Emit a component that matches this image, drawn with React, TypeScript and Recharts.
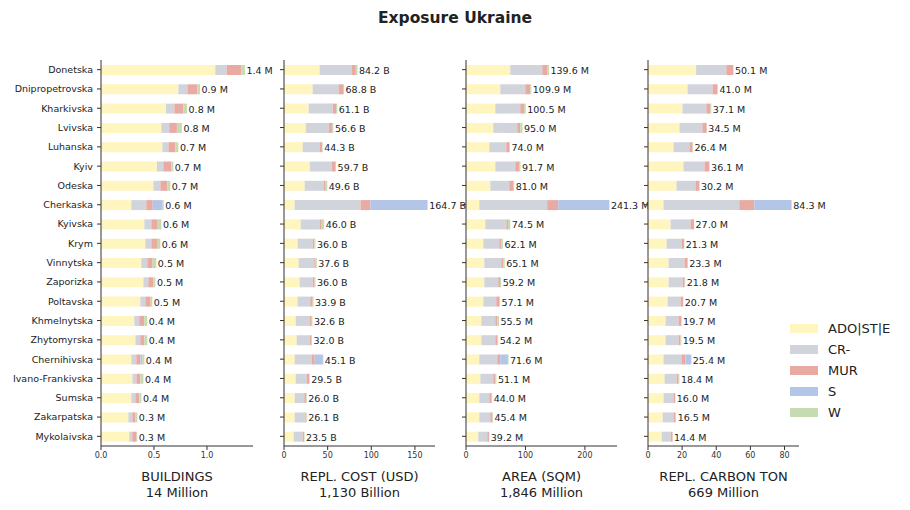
import { BarChart, Bar, XAxis, YAxis, LabelList } from "recharts";

const regions = [
  "Donetska", "Dnipropetrovska", "Kharkivska", "Lvivska", "Luhanska",
  "Kyiv", "Odeska", "Cherkaska", "Kyivska", "Krym",
  "Vinnytska", "Zaporizka", "Poltavska", "Khmelnytska", "Zhytomyrska",
  "Chernihivska", "Ivano-Frankivska", "Sumska", "Zakarpatska", "Mykolaivska",
];

const categories = ["ADO|ST|E", "CR-", "MUR", "S", "W"];
const colors = ["#fff5be", "#d2d4dc", "#e8aaa2", "#b3c6e8", "#c7dbb3"];

// buildings (million)
const bldAdo = [1.078, 0.73, 0.613, 0.569, 0.579, 0.528, 0.494, 0.286, 0.409, 0.418, 0.38, 0.4, 0.371, 0.314, 0.324, 0.286, 0.296, 0.286, 0.258, 0.267];
const bldCr = [0.107, 0.085, 0.079, 0.075, 0.057, 0.06, 0.066, 0.142, 0.066, 0.057, 0.057, 0.047, 0.047, 0.047, 0.047, 0.047, 0.038, 0.038, 0.038, 0.028];
const bldMur = [0.138, 0.094, 0.085, 0.072, 0.066, 0.075, 0.066, 0.06, 0.06, 0.06, 0.05, 0.047, 0.05, 0.047, 0.038, 0.038, 0.038, 0.038, 0.028, 0.041];
const bldS = [0, 0, 0, 0, 0, 0, 0, 0.094, 0, 0, 0, 0, 0, 0, 0, 0.019, 0, 0, 0, 0];
const bldW = [0.035, 0.025, 0.035, 0.047, 0.028, 0.019, 0.028, 0.01, 0.035, 0.025, 0.035, 0.019, 0.016, 0.028, 0.028, 0.019, 0.028, 0.019, 0.019, 0.006];

// replacement cost (billion USD)
const costAdo = [40.8, 32.8, 28.3, 24.9, 21.4, 29.4, 23.7, 12.2, 19.1, 15.6, 16.8, 17.9, 15.6, 13.4, 14.5, 12.2, 13.4, 12.2, 12.2, 11.1];
const costCr = [36.5, 29.8, 27.5, 26.4, 19.8, 25.2, 22.1, 75.5, 21.8, 17.2, 17.9, 14.9, 14.5, 16.4, 15.3, 19.5, 12.6, 11.1, 11.5, 10.3];
const costMur = [5.0, 5.0, 3.8, 3.8, 2.3, 4.6, 1.9, 11.4, 2.3, 1.9, 0.8, 2.3, 2.7, 1.1, 1.1, 3.4, 2.7, 1.9, 1.1, 1.5];
const costS = [0, 0, 0, 0, 0, 0, 0, 65.3, 0, 0, 0, 0, 0, 0, 0, 9.5, 0, 0, 0, 0];
const costW = [1.9, 1.2, 1.5, 1.5, 0.8, 0.5, 1.9, 0.3, 2.8, 1.3, 2.1, 0.9, 1.1, 1.7, 1.1, 0.5, 0.8, 0.8, 1.3, 0.6];

// area (million sqm)
const areaAdo = [74.5, 57.7, 49.3, 45.9, 39.2, 49.3, 40.9, 22.4, 32.5, 29.1, 30.8, 30.8, 29.1, 25.8, 25.8, 22.4, 24.1, 22.4, 22.4, 20.7];
const areaCr = [53.8, 42.0, 42.0, 40.3, 28.6, 33.6, 31.9, 114.2, 35.3, 26.9, 28.6, 23.5, 21.8, 23.5, 23.5, 30.2, 21.8, 16.8, 18.5, 15.1];
const areaMur = [9.0, 8.4, 6.2, 5.0, 5.0, 7.3, 7.3, 18.5, 2.8, 3.4, 3.4, 2.8, 5.6, 3.4, 3.4, 5.0, 3.4, 3.9, 3.4, 2.8];
const areaS = [0, 0, 0, 0, 0, 0, 0, 85.7, 0, 0, 0, 0, 0, 0, 0, 12.9, 0, 0, 0, 0];
const areaW = [2.3, 1.8, 3.0, 3.8, 1.2, 1.5, 0.9, 0.5, 3.9, 2.7, 2.3, 2.1, 0.6, 2.8, 1.5, 1.1, 1.8, 0.9, 1.1, 0.6];

// replacement carbon (million ton)
const carbAdo = [28.2, 23.2, 20.2, 18.5, 15.0, 20.8, 16.7, 9.1, 13.2, 10.9, 12.1, 12.1, 11.5, 10.3, 10.3, 9.1, 9.7, 9.1, 8.6, 8.0];
const carbCr = [17.7, 14.6, 14.0, 13.4, 9.3, 12.3, 11.1, 44.4, 11.7, 8.8, 9.3, 8.2, 7.6, 7.6, 7.6, 10.5, 7.0, 5.8, 6.4, 5.3];
const carbMur = [4.1, 2.9, 2.5, 2.5, 1.8, 2.9, 2.3, 8.8, 2.1, 1.4, 1.8, 1.2, 1.4, 1.7, 1.2, 2.3, 1.2, 1.1, 1.0, 1.1];
const carbS = [0, 0, 0, 0, 0, 0, 0, 21.8, 0, 0, 0, 0, 0, 0, 0, 3.5, 0, 0, 0, 0];
const carbW = [0.1, 0.3, 0.4, 0.1, 0.3, 0.1, 0.1, 0.2, 0, 0.2, 0.1, 0.3, 0.2, 0.1, 0.4, 0, 0.5, 0, 0.5, 0];

const makeRows = (cols: number[][]) =>
  regions.map((region, i) => {
    const row: any = { region };
    cols.forEach((c, k) => (row["c" + k] = c[i]));
    row.total = cols.reduce((s, c) => s + c[i], 0);
    return row;
  });

const panels = [
  { rows: makeRows([bldAdo, bldCr, bldMur, bldS, bldW]), unit: "M", max: 1.434, ticks: [0, 0.5, 1.0], fmt: (v: number) => v.toFixed(1), title: "BUILDINGS", sub: "14 Million" },
  { rows: makeRows([costAdo, costCr, costMur, costS, costW]), unit: "B", max: 173, ticks: [0, 50, 100, 150], fmt: (v: number) => String(v), title: "REPL. COST (USD)", sub: "1,130 Billion" },
  { rows: makeRows([areaAdo, areaCr, areaMur, areaS, areaW]), unit: "M", max: 254, ticks: [0, 100, 200], fmt: (v: number) => String(v), title: "AREA (SQM)", sub: "1,846 Million" },
  { rows: makeRows([carbAdo, carbCr, carbMur, carbS, carbW]), unit: "M", max: 88.5, ticks: [0, 20, 40, 60, 80], fmt: (v: number) => String(v), title: "REPL. CARBON TON", sub: "669 Million" },
];

const font = "'DejaVu Sans', sans-serif";
const axisColor = "#333";

const Panel = ({ p, idx }: { p: any; idx: number }) => {
  const first = idx === 0;
  const left = first ? 0 : 254 + (idx - 1) * 182;
  const yWidth = first ? 101 : 30;
  const plotW = first ? 152 : 151;
  const width = first ? 300 : 230;

  // total label drawn from the first segment: its width scales to the row total
  const totalLabel = (lp: any) => {
    const row = p.rows[lp.index];
    if (!row) return null;
    const w = Number(lp.width) * (row.total / row.c0);
    return (
      <text
        x={Number(lp.x) + w + 1.5}
        y={Number(lp.y) + Number(lp.height) / 2 + 0.5}
        dominantBaseline="central"
        fontSize={9.5}
        fill="#222"
        fontFamily={font}
      >
        {row.total.toFixed(1)} {p.unit}
      </text>
    );
  };

  return (
    <div style={{ position: "absolute", left, top: 0 }}>
      <BarChart
        width={width}
        height={510}
        layout="vertical"
        data={p.rows}
        margin={{ top: 60, right: width - yWidth - plotW, bottom: 34, left: 0 }}
        barSize={10}
        style={{ fontFamily: font }}
      >
        <XAxis
          type="number"
          domain={[0, p.max]}
          ticks={p.ticks}
          tickFormatter={p.fmt}
          height={30}
          tickSize={4}
          stroke={axisColor}
          tick={{ fontSize: 8, fill: "#333" }}
          allowDataOverflow
        />
        <YAxis
          type="category"
          dataKey="region"
          width={yWidth}
          tickSize={4}
          tickMargin={4}
          stroke={axisColor}
          interval={0}
          tick={first ? { fontSize: 9.5, fill: "#222" } : () => <g />}
        />
        {categories.map((c, k) => (
          <Bar key={c} dataKey={"c" + k} stackId="a" fill={colors[k]} isAnimationActive={false}>
            {k === 0 && <LabelList dataKey="total" content={totalLabel} />}
          </Bar>
        ))}
      </BarChart>
      <div
        style={{
          position: "absolute",
          left: yWidth + plotW / 2 - 100,
          top: 469,
          width: 200,
          textAlign: "center",
          fontFamily: font,
          fontSize: 13,
          lineHeight: "16px",
          color: "#222",
        }}
      >
        {p.title}
        <br />
        {p.sub}
      </div>
    </div>
  );
};

export default function App() {
  return (
    <div style={{ position: "absolute", left: 0, top: 0, width: 910, height: 510, background: "#fff", fontFamily: font }}>
      <div
        style={{
          position: "absolute",
          left: 0,
          top: 9,
          width: 910,
          textAlign: "center",
          fontSize: 15.5,
          fontWeight: "bold",
          color: "#222",
        }}
      >
        Exposure Ukraine
      </div>
      {panels.map((p, i) => (
        <Panel key={i} p={p} idx={i} />
      ))}
      <div style={{ position: "absolute", left: 790, top: 318 }}>
        {categories.map((c, k) => (
          <div key={c} style={{ display: "flex", alignItems: "center", height: 21 }}>
            <div style={{ width: 28, height: 9, background: colors[k] }} />
            <span style={{ marginLeft: 10, fontSize: 13, color: "#222" }}>{c}</span>
          </div>
        ))}
      </div>
    </div>
  );
}
